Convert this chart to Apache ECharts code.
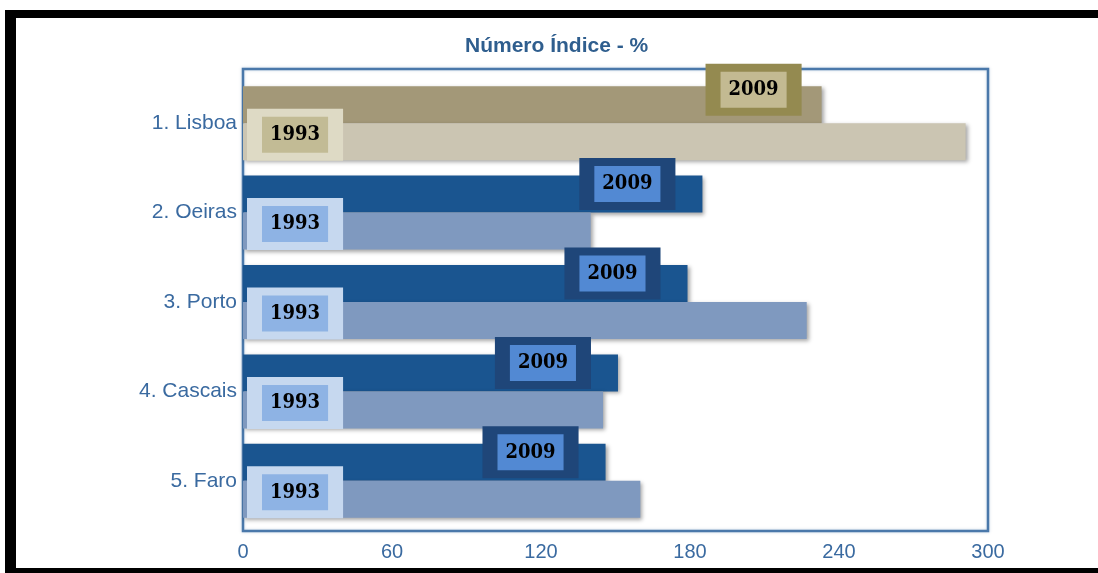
<!DOCTYPE html>
<html>
<head>
<meta charset="utf-8">
<script src="https://cdn.jsdelivr.net/npm/echarts@6/dist/echarts.min.js"></script>
<style>
html,body{margin:0;padding:0;background:#fff;}
#c{width:1098px;height:573px;}
</style>
</head>
<body>
<div id="c"></div>
<script>
const titleText = 'Número Índice - %';
const categories = ['1. Lisboa', '2. Oeiras', '3. Porto', '4. Cascais', '5. Faro'];
const years = ['2009', '1993'];
const values2009 = [233, 185, 179, 151, 146];
const values1993 = [291, 140, 227, 145, 160];
const xTicks = [0, 60, 120, 180, 240, 300];

const tan = { bar2009: '#A39878', bar1993: '#CBC5B2', lbl2009Out: '#948A50', lbl2009In: '#C3BA92', lbl1993Out: '#DEDAC5', lbl1993In: '#C2BB95' };
const blue = { bar2009: '#1A5590', bar1993: '#7F99BF', lbl2009Out: '#1F4679', lbl2009In: '#5289D3', lbl1993Out: '#C6D8EF', lbl1993In: '#8EB3E4' };
const pal = i => (i === 0 ? tan : blue);

const labelFont = { fontFamily: '"DejaVu Serif Condensed", "DejaVu Serif", serif', fontWeight: 'bold', fontSize: 20, color: '#000', lineHeight: 22, padding: [8, 8] };
const barShadow = { shadowColor: 'rgba(0,0,0,0.35)', shadowBlur: 4, shadowOffsetX: 2, shadowOffsetY: 2 };

function makeData(vals, which) {
  return vals.map((v, i) => {
    const p = pal(i);
    const is09 = which === '2009';
    return {
      value: v,
      itemStyle: Object.assign({ color: is09 ? p.bar2009 : p.bar1993 }, barShadow),
      label: {
        show: true,
        formatter: '{a|' + which + '}',
        position: is09 ? 'insideRight' : 'insideLeft',
        distance: is09 ? (i === 0 ? 20 : 27) : 4,
        offset: is09 ? [0, i === 0 ? -15 : -10] : [0, -7],
        backgroundColor: is09 ? p.lbl2009Out : p.lbl1993Out,
        padding: [15, 15],
        rich: { a: Object.assign({ backgroundColor: is09 ? p.lbl2009In : p.lbl1993In }, labelFont) }
      }
    };
  });
}

const axisTextColor = '#3A6AA0';
const chart = echarts.init(document.getElementById('c'));
chart.setOption({
  animation: false,
  backgroundColor: '#fff',
  title: {
    text: titleText,
    left: 460, top: 31,
    textStyle: { fontFamily: '"Liberation Sans", Arial, sans-serif', fontWeight: 'bold', fontSize: 21, color: '#2F5E8E' }
  },
  graphic: [
    { type: 'rect', shape: { x: 5, y: 10, width: 1093, height: 8 }, style: { fill: '#000' }, silent: true },
    { type: 'rect', shape: { x: 5, y: 10, width: 11, height: 563 }, style: { fill: '#000' }, silent: true },
    { type: 'rect', shape: { x: 5, y: 568, width: 1093, height: 5 }, style: { fill: '#000' }, silent: true }
  ],
  grid: [
    { left: 243, top: 69, width: 745, height: 462, show: true, borderColor: '#4A78AA', borderWidth: 2.5, backgroundColor: 'transparent', shadowColor: 'rgba(74,120,170,0.35)', shadowBlur: 3 },
    { left: 243, top: 78.5, width: 745, height: 447 }
  ],
  xAxis: [
    { gridIndex: 0, type: 'value', min: xTicks[0], max: xTicks[xTicks.length - 1], interval: xTicks[1] - xTicks[0],
      axisLine: { show: false }, axisTick: { show: false }, splitLine: { show: false },
      axisLabel: { margin: 11, color: axisTextColor, fontSize: 20, fontFamily: '"Liberation Sans", Arial, sans-serif' } },
    { gridIndex: 1, type: 'value', min: xTicks[0], max: xTicks[xTicks.length - 1], show: false, splitLine: { show: false } }
  ],
  yAxis: [
    { gridIndex: 0, type: 'value', show: false, splitLine: { show: false } },
    { gridIndex: 1, type: 'category', data: categories, inverse: true,
      axisLine: { show: false }, axisTick: { show: false }, splitLine: { show: false },
      axisLabel: { margin: 6, color: axisTextColor, fontSize: 21, fontFamily: '"Liberation Sans", Arial, sans-serif' } }
  ],
  series: [
    { name: years[0], type: 'bar', xAxisIndex: 1, yAxisIndex: 1, barWidth: 37, barGap: '0%', data: makeData(values2009, years[0]) },
    { name: years[1], type: 'bar', xAxisIndex: 1, yAxisIndex: 1, barWidth: 37, barGap: '0%', data: makeData(values1993, years[1]) }
  ]
});
</script>
</body>
</html>
